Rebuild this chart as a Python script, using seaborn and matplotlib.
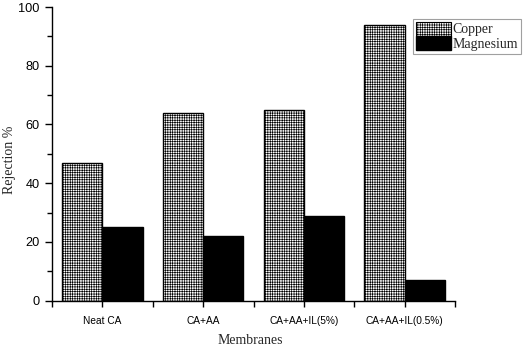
import matplotlib
matplotlib.use("Agg")
import matplotlib.pyplot as plt
import matplotlib.patches as mpatches
from matplotlib.ticker import MultipleLocator, FixedLocator
import seaborn as sns
import pandas as pd

membranes = ["Neat CA", "CA+AA", "CA+AA+IL(5%)", "CA+AA+IL(0.5%)"]
copper = [47, 64, 65, 94]
magnesium = [25, 22, 29, 7]
series = ["Copper", "Magnesium"]

df = pd.DataFrame({
    "Membranes": membranes * 2,
    "Rejection": copper + magnesium,
    "Metal": [series[0]] * len(membranes) + [series[1]] * len(membranes),
})

sns.set_style("ticks")
plt.rcParams["hatch.linewidth"] = 0.45
plt.rcParams["hatch.color"] = "#222222"

fig = plt.figure(figsize=(5.24, 3.47), dpi=100)
ax = fig.add_axes([52/524, 1 - 300.7/347, (455-52)/524, (300.7-7)/347])

sns.barplot(data=df, x="Membranes", y="Rejection", hue="Metal",
            palette={"Copper": "white", "Magnesium": "black"},
            width=0.8, ax=ax, legend=False, saturation=1)

HATCH = "+++++++"
n = len(membranes)
for i, p in enumerate(ax.patches[:2*n]):
    s = series[i // n]
    p.set_edgecolor("black")
    p.set_linewidth(1.0)
    if s == "Copper":
        p.set_hatch(HATCH)
        p.set_facecolor("white")

ax.set_xlim(-0.5, 3.5)
ax.set_ylim(0, 100)
ax.yaxis.set_major_locator(MultipleLocator(20))
ax.yaxis.set_minor_locator(MultipleLocator(10))
ax.xaxis.set_minor_locator(FixedLocator([-0.5, 0.5, 1.5, 2.5, 3.5]))
ax.tick_params(axis="y", which="major", direction="out", length=5, width=1, colors="black", pad=4)
ax.tick_params(axis="y", which="minor", direction="out", length=3.5, width=1, colors="black")
ax.tick_params(axis="x", which="major", direction="out", length=4, width=1, colors="black", pad=7)
ax.tick_params(axis="x", which="minor", direction="out", length=4, width=1, colors="black")
for lab in ax.get_xticklabels():
    lab.set_fontfamily("Liberation Sans")
    lab.set_fontsize(7.3)
for lab in ax.get_yticklabels():
    lab.set_fontfamily("Liberation Sans")
    lab.set_fontsize(9.2)

sns.despine(ax=ax)
for sp in ["left", "bottom"]:
    ax.spines[sp].set_linewidth(1.0)
    ax.spines[sp].set_color("black")

ax.set_xlabel("Membranes", fontfamily="Liberation Serif", fontsize=10)
ax.set_ylabel("Rejection %", fontfamily="Liberation Serif", fontsize=10)
ax.xaxis.set_label_coords((250 - 52) / 403, (300.7 - 340) / 293.7)
ax.yaxis.set_label_coords((9.5 - 52) / 403, (300.7 - 160) / 293.7)
ax.xaxis.label.set_verticalalignment("center")
ax.yaxis.label.set_verticalalignment("center")

handles = [
    mpatches.Patch(facecolor="white", edgecolor="black", hatch=HATCH, linewidth=0.8, label="Copper"),
    mpatches.Patch(facecolor="black", edgecolor="black", label="Magnesium"),
]
leg = fig.legend(handles=handles, loc="upper left", bbox_to_anchor=(413/524, 1 - 19/347),
                 prop={"family": "Liberation Serif", "size": 10}, frameon=True, fancybox=False,
                 edgecolor="#888888", handlelength=2.5, handleheight=1.15, borderpad=0.2,
                 labelspacing=0.0, handletextpad=0.15, borderaxespad=0)
leg.get_frame().set_linewidth(0.8)

fig.savefig("out.png", dpi=100)
